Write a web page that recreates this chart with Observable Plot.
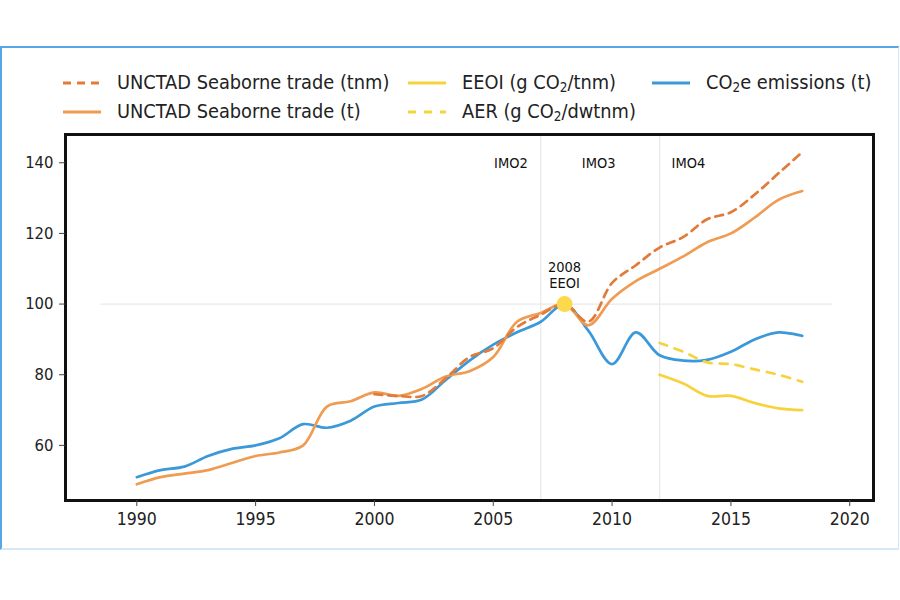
<!DOCTYPE html>
<html>
<head>
<meta charset="utf-8">
<script src="https://cdn.jsdelivr.net/npm/d3@7"></script>
<script src="https://cdn.jsdelivr.net/npm/@observablehq/plot@0.6"></script>
<style>
  html, body { margin: 0; padding: 0; background: #fff; }
  body { width: 900px; height: 600px; position: relative; overflow: hidden; font-family: "DejaVu Sans Condensed", "DejaVu Sans", sans-serif; color: #222; }
  #box { position: absolute; left: 0; top: 46px; width: 896px; height: 500px; border-top: 2px solid #5aa6e2; border-left: 2px solid #5aa6e2; border-right: 1px solid #d3e6f6; border-bottom: 2px solid #d6e8f7; }
  #legend { position: absolute; left: 63px; top: 68px; display: grid; grid-template-columns: 345px 244px auto; grid-template-rows: 29px 29px; grid-auto-flow: column; font-size: 19.8px; }
  .item { display: flex; align-items: center; white-space: nowrap; }
  .item svg { margin-right: 16px; flex: none; }
  .item sub { font-size: 0.68em; vertical-align: -0.25em; line-height: 0; }
  #chart { position: absolute; left: 0; top: 124px; }
</style>
</head>
<body>
<div id="box"></div>
<div id="legend"></div>
<div id="chart"></div>
<script>
// ---- data ----
const yearsAll = [1990,1991,1992,1993,1994,1995,1996,1997,1998,1999,2000,2001,2002,2003,2004,2005,2006,2007,2008,2009,2010,2011,2012,2013,2014,2015,2016,2017,2018];
const co2eEmissions = [51,53,54,57,59,60,62,66,65,67,71,72,73,78.5,84,88.5,92,95,100,92.5,83,92,85.5,84,84.2,86.5,90,92,91];
const tradeTonnes = [49,51,52,53,55,57,58,60,71,72.5,75,74,76,79.5,81,85,95,97.5,100,94,101.5,106.5,110,113.5,117.5,120,124.5,129.5,132];
const yearsTnm = [2000,2001,2002,2003,2004,2005,2006,2007,2008,2009,2010,2011,2012,2013,2014,2015,2016,2017,2018];
const tradeTnm = [74.5,74,74,79,85,87.5,93.5,97,100,95,106,111,116,119,124,126,131,137,143];
const yearsIndic = [2012,2013,2014,2015,2016,2017,2018];
const eeoi = [80,77.5,74,74,72,70.5,70];
const aer = [89,86.5,83.5,83,81.5,80,78];
const xTicks = [1990,1995,2000,2005,2010,2015,2020];
const yTicks = [60,80,100,120,140];
const imoYears = [2007, 2012];
const imoLabels = ["IMO2","IMO3","IMO4"];
const baseYear = 2008, baseValue = 100;
const baseLabel = "2008\nEEOI";
const seriesNames = ["UNCTAD Seaborne trade (tnm)","UNCTAD Seaborne trade (t)","EEOI (g CO2/tnm)","AER (g CO2/dwtnm)","CO2e emissions (t)"];

// ---- styles ----
const styles = [
  {color:"#e27a3a", dash:"8,6"},
  {color:"#ef9b52", dash:null},
  {color:"#f6d23c", dash:null},
  {color:"#f6d23c", dash:"8,8"},
  {color:"#3b99d9", dash:null}
];

// legend
const legend = document.getElementById("legend");
seriesNames.forEach((name, i) => {
  const s = styles[i];
  const div = document.createElement("div");
  div.className = "item";
  div.innerHTML = `<svg width="38" height="8"><line x1="0" y1="4" x2="38" y2="4" stroke="${s.color}" stroke-width="3" ${s.dash ? `stroke-dasharray="${s.dash}"` : ""}/></svg><span>${name.replace(/CO2/g, "CO<sub>2</sub>")}</span>`;
  legend.appendChild(div);
});

const toRows = (xs, ys) => xs.map((x, i) => ({year: x, value: ys[i]}));
const sTnm = toRows(yearsTnm, tradeTnm);
const sT = toRows(yearsAll, tradeTonnes);
const sEeoi = toRows(yearsIndic, eeoi);
const sAer = toRows(yearsIndic, aer);
const sCo2 = toRows(yearsAll, co2eEmissions);

const lineOpts = (i) => ({x: "year", y: "value", stroke: styles[i].color, strokeWidth: 2.7, curve: "catmull-rom", strokeDasharray: styles[i].dash || undefined});

const chart = Plot.plot({
  width: 900,
  height: 416,
  marginLeft: 65,
  marginRight: 27,
  marginTop: 10,
  marginBottom: 40,
  x: {domain: [1987, 2021]},
  y: {domain: [44.4, 148]},
  style: {fontFamily: "DejaVu Sans Condensed, DejaVu Sans, sans-serif", fontSize: "16px", color: "#222", background: "transparent", overflow: "visible"},
  marks: [
    Plot.ruleX(imoYears, {stroke: "#e8e8e8", strokeWidth: 1.2}),
    Plot.ruleY([baseValue], {x1: 1988.5, x2: 2019.3, stroke: "#e8e8e8", strokeWidth: 1.2}),
    Plot.line(sCo2, lineOpts(4)),
    Plot.line(sT, lineOpts(1)),
    Plot.line(sTnm, lineOpts(0)),
    Plot.line(sAer, lineOpts(3)),
    Plot.line(sEeoi, lineOpts(2)),
    Plot.dot([{year: baseYear, value: baseValue}], {x: "year", y: "value", r: 8, fill: "#fbd94b", stroke: "none"}),
    Plot.text([baseLabel], {x: baseYear, y: baseValue, text: d => d, lineAnchor: "bottom", dy: -16, fontSize: 14.5, lineHeight: 1.08, fill: "#111"}),
    Plot.text([imoLabels[0]], {x: imoYears[0], frameAnchor: "top", dy: 23, text: d => d, textAnchor: "end", dx: -13, fontSize: 14.5, fill: "#111"}),
    Plot.text([imoLabels[1]], {x: imoYears[0], frameAnchor: "top", dy: 23, text: d => d, textAnchor: "start", dx: 41, fontSize: 14.5, fill: "#111"}),
    Plot.text([imoLabels[2]], {x: imoYears[1], frameAnchor: "top", dy: 23, text: d => d, textAnchor: "start", dx: 12, fontSize: 14.5, fill: "#111"}),
    Plot.frame({stroke: "#111", strokeWidth: 3}),
    Plot.axisX({ticks: xTicks, tickFormat: "d", tickSize: 6, tickPadding: 6, fontSize: 17.5, stroke: "#444", label: null}),
    Plot.axisY({ticks: yTicks, tickSize: 6, tickPadding: 6, fontSize: 16.5, stroke: "#444", label: null})
  ]
});
document.getElementById("chart").appendChild(chart);
</script>
</body>
</html>
